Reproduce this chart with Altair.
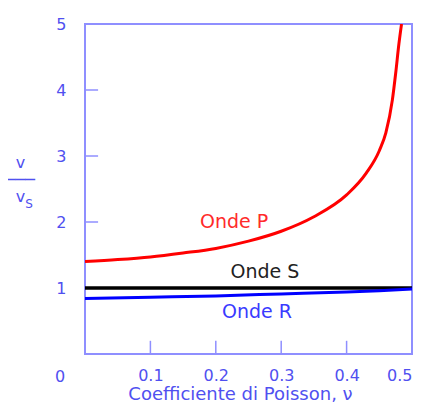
import altair as alt
import pandas as pd

# ---- data ----
nu_p = [0.0, 0.05, 0.10, 0.15, 0.20, 0.25, 0.30, 0.35, 0.40, 0.43, 0.45, 0.46, 0.47, 0.475, 0.48, 0.484]
v_p = [1.40, 1.43, 1.47, 1.53, 1.60, 1.71, 1.86, 2.08, 2.41, 2.74, 3.08, 3.35, 3.85, 4.25, 4.70, 5.0]

nu_s = [0.0, 0.5]
v_s = [1.0, 1.0]

nu_r = [0.0, 0.1, 0.2, 0.3, 0.4, 0.45, 0.5]
v_r = [0.84, 0.86, 0.88, 0.91, 0.94, 0.96, 0.985]

x_tick_values = [0.1, 0.2, 0.3, 0.4]
y_tick_values = [1, 2, 3, 4]
x_label_values = [0.1, 0.2, 0.3, 0.4, 0.5]
y_label_values = [1, 2, 3, 4, 5]

wave_names = ["Onde P", "Onde S", "Onde R"]
wave_nu = [0.228, 0.275, 0.263]
wave_v = [2.0, 1.25, 0.64]

x_title = "Coefficiente di Poisson, ν"

# ---- styles ----
FRAME = "#8f8fff"
TEXT = "#5050f0"
FONT = "DejaVu Sans"
W, H = 327, 330

xs = alt.Scale(domain=[0, 0.5], nice=False, zero=False)
ys = alt.Scale(domain=[0, 5], nice=False, zero=False)

x_axis = alt.Axis(
    values=x_label_values, format=".1f", ticks=False, tickSize=0, domain=False, grid=False,
    labelPadding=13, labelFontSize=16, labelColor=TEXT, labelFont=FONT,
    title=x_title, titleFont=FONT, titleFontSize=18, titleFontWeight="normal",
    titleColor=TEXT, titleX=155, titleY=45, titleAlign="center", titleBaseline="alphabetic",
)
y_axis = alt.Axis(
    values=y_label_values, ticks=False, tickSize=0, domain=False, grid=False,
    labelPadding=19, labelFontSize=16, labelColor=TEXT, labelFont=FONT,
    title=["v", "───", "v"], titleAngle=0, titleFont=FONT, titleFontSize=16,
    titleFontWeight="normal", titleColor=TEXT, titleX=-65, titleY=143,
    titleAlign="center", titleBaseline="alphabetic", titleLineHeight=17,
)


def X(field):
    return alt.X(field, type="quantitative", scale=xs, axis=x_axis)


def Y(field):
    return alt.Y(field, type="quantitative", scale=ys, axis=y_axis)


df_p = pd.DataFrame({"nu": nu_p, "v": v_p})
df_s = pd.DataFrame({"nu": nu_s, "v": v_s})
df_r = pd.DataFrame({"nu": nu_r, "v": v_r})
df_xt = pd.DataFrame({"t": x_tick_values})
df_yt = pd.DataFrame({"t": y_tick_values})
df_w = pd.DataFrame({"name": wave_names, "nu": wave_nu, "v": wave_v})

line_s = alt.Chart(df_s).mark_line(color="#000000", strokeWidth=3.5).encode(x=X("nu"), y=Y("v"))
line_r = alt.Chart(df_r).mark_line(color="#0000ff", strokeWidth=3, interpolate="monotone").encode(x=X("nu"), y=Y("v"))
line_p = alt.Chart(df_p).mark_line(color="#ff0000", strokeWidth=3, interpolate="monotone", clip=True).encode(x=X("nu"), y=Y("v"))

ticks_x = alt.Chart(df_xt).mark_rule(color=FRAME, strokeWidth=1.5).encode(
    x=X("t"), y=alt.Y(datum=0, type="quantitative", scale=ys, axis=y_axis),
    y2=alt.Y2(datum=0.2),
)
ticks_y = alt.Chart(df_yt).mark_rule(color=FRAME, strokeWidth=1.5).encode(
    y=Y("t"), x=alt.X(datum=0, type="quantitative", scale=xs, axis=x_axis),
    x2=alt.X2(datum=0.02),
)

wave_colors = {"Onde P": "#ff2a2a", "Onde S": "#222222", "Onde R": "#3a3aff"}
texts = [
    alt.Chart(df_w[df_w["name"] == n]).mark_text(
        font=FONT, fontSize=19, color=c, align="center", baseline="middle"
    ).encode(x=X("nu"), y=Y("v"), text="name:N")
    for n, c in wave_colors.items()
]

origin = pd.DataFrame({"nu": [0.0], "v": [0.0]})
zero_label = alt.Chart(origin).mark_text(
    text="0", font=FONT, fontSize=16, color=TEXT, dx=-25, dy=23, align="center", baseline="middle"
).encode(x=X("nu"), y=Y("v"))
sub_s = alt.Chart(origin).mark_text(
    text="S", font=FONT, fontSize=12, color=TEXT, dx=-56, dy=-150, align="center", baseline="middle"
).encode(x=X("nu"), y=Y("v"))

chart = alt.layer(
    ticks_x, ticks_y, line_s, line_r, line_p, *texts, zero_label, sub_s
).properties(
    width=W, height=H,
    padding={"left": 77, "top": 16, "right": 1, "bottom": 50},
    autosize=alt.AutoSizeParams(type="none"),
).configure_view(stroke=FRAME, strokeWidth=2)

chart.save("out.html", embed_options={"renderer": "svg", "actions": False})
